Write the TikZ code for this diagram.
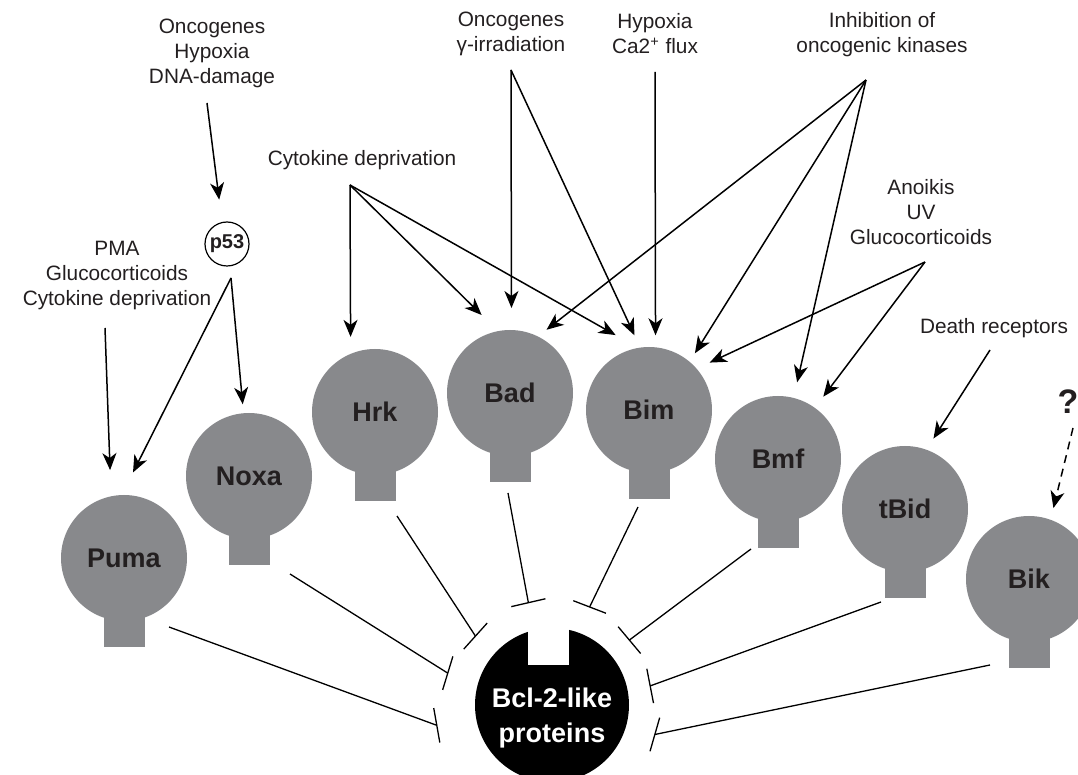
\documentclass[tikz,border=0pt]{standalone}
\usepackage{fontspec}
\setmainfont{Liberation Sans}
\usetikzlibrary{arrows.meta,calc}
\definecolor{headgray}{RGB}{136,137,140}
\definecolor{inkblack}{RGB}{35,31,32}

\begin{document}
\begin{tikzpicture}[x=0.5pt,y=0.5pt]
  \tikzset{HeadStyle/.style = {shape        = circle,
                               fill         = headgray,
                               minimum size = 63pt,
                               inner sep    = 0pt,
                               text         = inkblack,
                               font         = \fontsize{13.5}{16}\selectfont\bfseries}}
  \tikzset{CueStyle/.style = {align     = center,
                              inner sep = 0pt,
                              text      = inkblack,
                              font      = \fontsize{10.4}{12.5}\selectfont}}
  \tikzset{ActStyle/.style = {line width = 0.75pt,
                              -{Stealth[length=8.5pt, width=7pt, inset=2.5pt]}}}
  \tikzset{InhibStyle/.style = {line width = 0.65pt}}
  \useasboundingbox (0,0) rectangle (1078,-775);

  %%% BH3-ONLY HEADS %%%
  \foreach \h/\x/\y in {puma/124/558, noxa/249/476, hrk/375/412, bad/510/393,
                        bim/649/410, bmf/778/459, tbid/905/509, bik/1029/579}
    \fill[headgray] (\x-20.5,-\y-40) rectangle ++(41,-49);
  \node[HeadStyle] (puma) at (124,-558) {Puma};
  \node[HeadStyle] (noxa) at (249,-476) {Noxa};
  \node[HeadStyle] (hrk)  at (375,-412) {Hrk};
  \node[HeadStyle] (bad)  at (510,-393) {Bad};
  \node[HeadStyle] (bim)  at (649,-410) {Bim};
  \node[HeadStyle] (bmf)  at (778,-459) {Bmf};
  \node[HeadStyle] (tbid) at (905,-509) {tBid};
  \node[HeadStyle] (bik)  at (1029,-579) {Bik};

  %%% BCL-2 %%%
  \node[circle, fill=black, minimum size=77pt, inner sep=0pt] (bcl) at (552,-705) {};
  \fill[white] ($(bcl)+(-24,40)$) rectangle ($(bcl)+(17,80)$);
  \node[align=center, inner sep=0pt, text=white,
        font=\fontsize{13.5}{17.5}\selectfont\bfseries] (bcltext) at ($(bcl)+(0,-13)$) {Bcl-2-like\\proteins};

  %%% SIGNALS %%%
  \node[CueStyle] (oncdna)   at (212,-53)  {Oncogenes\\Hypoxia\\DNA-damage};
  \node[circle, draw, line width=0.6pt, minimum size=22pt, inner sep=0pt, text=inkblack,
        font=\fontsize{10}{12}\selectfont\bfseries] (p53) at (227,-244) {p53};
  \node[CueStyle] (pmatext)  at (117,-276) {PMA\\Glucocorticoids\\Cytokine deprivation};
  \node[CueStyle] (cytodep)  at (362,-160) {Cytokine deprivation};
  \node[CueStyle] (oncgam)   at (511,-34)  {Oncogenes\\γ-irradiation};
  \node[CueStyle] (hypca)    at (655,-34)  {Hypoxia\\Ca2\textsuperscript{+} flux};
  \node[CueStyle] (kinase)   at (882,-35)  {Inhibition of\\oncogenic kinases};
  \node[CueStyle] (anoikis)  at (921,-212) {Anoikis\\UV\\Glucocorticoids};
  \node[CueStyle] (deathrec) at (994,-328) {Death receptors};
  \node[CueStyle, font=\fontsize{17}{20}\selectfont\bfseries] (quest) at (1068,-402) {?};

  %%% ACTIVATION %%%
  \draw[ActStyle] ($(oncdna)+(-5,-50)$)   -- ($(p53)+(100:45)$);
  \draw[ActStyle] ($(p53)+(4,-34)$)       -- ($(noxa)+(95:72)$);
  \draw[ActStyle] ($(p53)+(4,-34)$)       -- ($(puma)+(84:86)$);
  \draw[ActStyle] ($(pmatext)+(-12,-52)$) -- ($(puma)+(99:89)$);
  \draw[ActStyle] ($(cytodep)+(-12,-25)$) -- ($(hrk)+(108:79)$);
  \draw[ActStyle] ($(cytodep)+(-12,-25)$) -- ($(bad)+(110:83)$);
  \draw[ActStyle] ($(cytodep)+(-12,-25)$) -- ($(bim)+(114:82)$);
  \draw[ActStyle] ($(oncgam)+(0,-36)$)    -- ($(bad)+(89:85)$);
  \draw[ActStyle] ($(oncgam)+(0,-36)$)    -- ($(bim)+(101:76)$);
  \draw[ActStyle] ($(hypca)+(0,-38)$)     -- ($(bim)+(85:75)$);
  \draw[ActStyle] ($(kinase)+(-16,-45)$)  -- ($(bad)+(60:73)$);
  \draw[ActStyle] ($(kinase)+(-16,-45)$)  -- ($(bim)+(51:73)$);
  \draw[ActStyle] ($(kinase)+(-16,-45)$)  -- ($(bmf)+(76:79)$);
  \draw[ActStyle] ($(anoikis)+(4,-50)$)   -- ($(bim)+(38:77)$);
  \draw[ActStyle] ($(anoikis)+(4,-50)$)   -- ($(bmf)+(54:77)$);
  \draw[ActStyle] ($(deathrec)+(-4,-22)$) -- ($(tbid)+(68:76)$);
  \draw[ActStyle, dash pattern=on 4pt off 3pt] ($(quest)+(5,-26)$) -- ($(bik)+(71:75)$);

  %%% INHIBITION %%%
  \foreach \h/\dx/\dy/\a/\r in {puma/45/-69/190/117, noxa/41/-98/163/109,
                                hrk/22/-104/138/103, bad/-2/-100/103/105,
                                bim/-11/-97/69/105, bmf/-27/-90/40/101,
                                tbid/-24/-93/11/100, bik/-39/-86/-16/107}
  {
    \draw[InhibStyle] ($(\h)+(\dx,\dy)$) -- ($(bcl)+(\a:\r)$);
    \draw[InhibStyle] ($(bcl)+(\a:\r)+({\a+90}:17.5)$) -- ($(bcl)+(\a:\r)+({\a-90}:17.5)$);
  }
\end{tikzpicture}
\end{document}
